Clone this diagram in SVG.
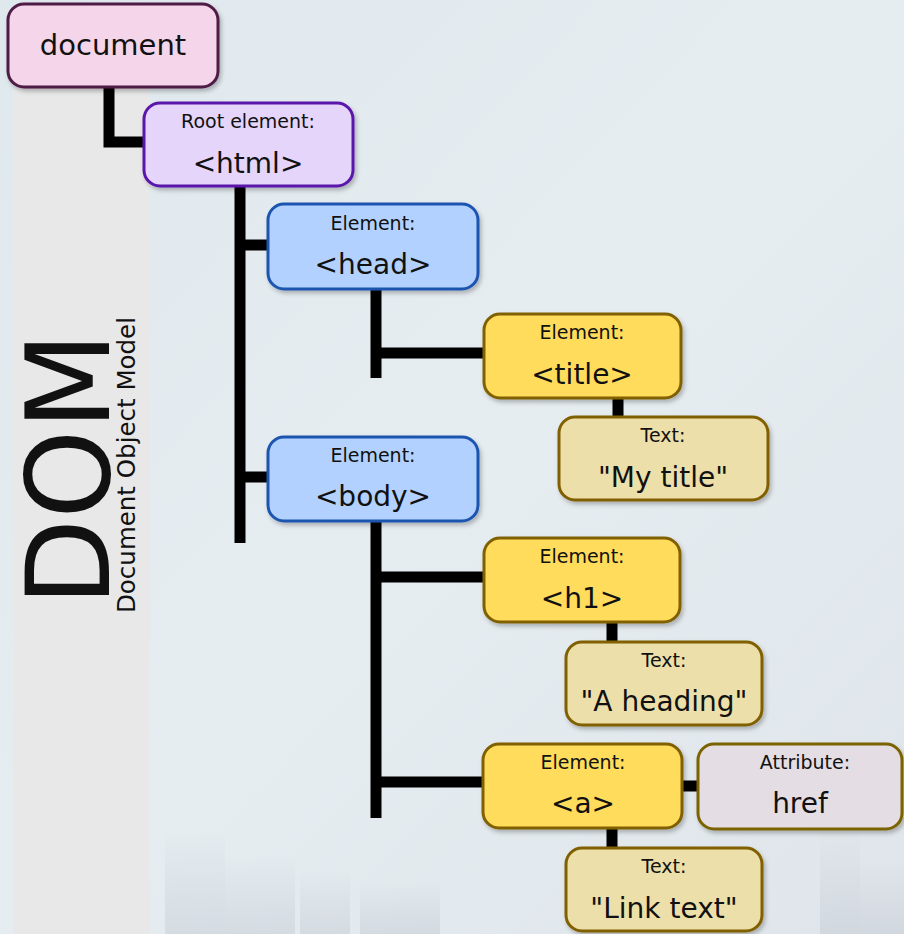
<svg xmlns="http://www.w3.org/2000/svg" width="904" height="934" viewBox="0 0 904 934">
<defs>
<linearGradient id="bg" x1="0" y1="0" x2="1" y2="1">
<stop offset="0" stop-color="#dfe8ed"/>
<stop offset="0.5" stop-color="#e6edf1"/>
<stop offset="1" stop-color="#dfe5ea"/>
</linearGradient>
<linearGradient id="city" x1="0" y1="0" x2="0" y2="1">
<stop offset="0" stop-color="#b8bec8" stop-opacity="0"/>
<stop offset="1" stop-color="#b8bec8" stop-opacity="0.35"/>
</linearGradient>
<filter id="sh" x="-10%" y="-10%" width="125%" height="130%">
<feDropShadow dx="2" dy="3" stdDeviation="2" flood-color="#000" flood-opacity="0.25"/>
</filter>
<style>
.box{stroke-width:3;filter:url(#sh)}
.doc{fill:#f5d5ea;stroke:#4f1a45}
.root{fill:#e5d5fa;stroke:#5a16aa}
.el{fill:#b3d1ff;stroke:#1f55b0}
.yel{fill:#ffdc5c;stroke:#806000}
.txt{fill:#eddfa9;stroke:#806000}
.att{fill:#e5dde4;stroke:#7a6400}
text{font-family:"DejaVu Sans",Verdana,sans-serif;fill:#111;text-anchor:middle}
.s{font-size:19px}
.b{font-size:28px}
.c{stroke:#000;stroke-width:11;fill:none}
</style>
</defs>
<rect width="904" height="934" fill="url(#bg)"/>
<g fill="url(#city)">
<rect x="165" y="830" width="60" height="104"/>
<rect x="225" y="855" width="70" height="79"/>
<rect x="300" y="870" width="50" height="64"/>
<rect x="360" y="880" width="80" height="54"/>
<rect x="820" y="830" width="40" height="104"/>
<rect x="860" y="860" width="44" height="74"/>
</g>
<rect x="13" y="88" width="137" height="846" fill="#e8e8e8"/>
<g id="title-dom">
<text transform="translate(109,606) rotate(-90)" style="font-size:116px;text-anchor:start" textLength="274" lengthAdjust="spacingAndGlyphs">DOM</text>
<text transform="translate(135,613) rotate(-90)" style="font-size:24px;text-anchor:start" textLength="296" lengthAdjust="spacingAndGlyphs">Document Object Model</text>
</g>
<g id="connectors">
<path class="c" d="M109 88 V142 H144"/>
<path class="c" d="M240 187 V543 M240 245 H268 M240 477 H268"/>
<path class="c" d="M376 290 V378 M376 353 H484"/>
<path class="c" d="M618 398 V417"/>
<path class="c" d="M376 521 V818 M376 577 H484 M376 782 H484"/>
<path class="c" d="M612 622 V642"/>
<path class="c" d="M683 786 H698"/>
<path class="c" d="M612 829 V848"/>
</g>
<g id="document">
<rect class="box doc" x="8" y="4" width="210" height="83" rx="16"/>
<text x="113" y="55" style="font-size:29px">document</text>
</g>
<g id="html">
<rect class="box root" x="144" y="103" width="209" height="83" rx="16"/>
<text class="s" x="248" y="128">Root element:</text>
<text class="b" x="248" y="173">&lt;html&gt;</text>
</g>
<g id="head">
<rect class="box el" x="268" y="204" width="210" height="85" rx="16"/>
<text class="s" x="373" y="230">Element:</text>
<text class="b" x="373" y="274">&lt;head&gt;</text>
</g>
<g id="title">
<rect class="box yel" x="484" y="314" width="197" height="84" rx="16"/>
<text class="s" x="582" y="339">Element:</text>
<text class="b" x="582" y="384">&lt;title&gt;</text>
</g>
<g id="text-title">
<rect class="box txt" x="559" y="417" width="209" height="83" rx="16"/>
<text class="s" x="663" y="442">Text:</text>
<text class="b" x="663" y="487">"My title"</text>
</g>
<g id="body">
<rect class="box el" x="268" y="437" width="210" height="84" rx="16"/>
<text class="s" x="373" y="462">Element:</text>
<text class="b" x="373" y="506">&lt;body&gt;</text>
</g>
<g id="h1">
<rect class="box yel" x="484" y="538" width="196" height="84" rx="16"/>
<text class="s" x="582" y="563">Element:</text>
<text class="b" x="582" y="608">&lt;h1&gt;</text>
</g>
<g id="text-heading">
<rect class="box txt" x="566" y="642" width="196" height="83" rx="16"/>
<text class="s" x="664" y="667">Text:</text>
<text class="b" x="664" y="711">"A heading"</text>
</g>
<g id="a">
<rect class="box yel" x="483" y="744" width="199" height="84" rx="16"/>
<text class="s" x="583" y="769">Element:</text>
<text class="b" x="583" y="813">&lt;a&gt;</text>
</g>
<g id="attribute">
<rect class="box att" x="698" y="744" width="204" height="85" rx="16"/>
<text class="s" x="805" y="769">Attribute:</text>
<text class="b" x="800" y="813">href</text>
</g>
<g id="text-link">
<rect class="box txt" x="566" y="848" width="196" height="83" rx="16"/>
<text class="s" x="664" y="873">Text:</text>
<text class="b" x="664" y="918">"Link text"</text>
</g>
</svg>
